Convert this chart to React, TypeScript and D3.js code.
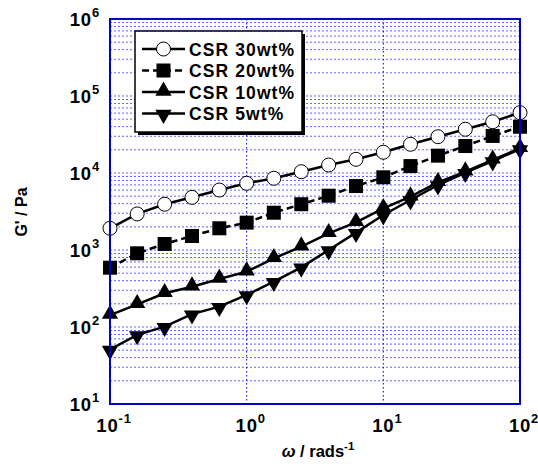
import React from "react";
import * as d3 from "d3";

// angular frequency (rad/s)
const omega = [0.1, 0.158, 0.251, 0.398, 0.631, 1, 1.58, 2.51, 3.98, 6.31, 10, 15.8, 25.1, 39.8, 63.1, 100];

const csr30 = [1915, 2940, 3930, 4830, 6010, 7350, 8540, 10400, 12700, 15060, 18600, 23600, 29600, 37000, 46300, 60700];
const csr20 = [589, 906, 1197, 1520, 1915, 2265, 3050, 3930, 5070, 6770, 8790, 12300, 16800, 22400, 30300, 39900];
const csr10 = [143, 197, 274, 334, 420, 523, 780, 1104, 1648, 2290, 3480, 4920, 7560, 10400, 14800, 20900];
const csr5 = [51, 79, 101, 147, 184, 261, 388, 596, 1000, 1680, 2850, 4460, 6980, 10100, 14300, 20500];

const seriesNames = ["CSR 30wt%", "CSR 20wt%", "CSR 10wt%", "CSR 5wt%"];
const xExponents = [-1, 0, 1, 2];
const yExponents = [1, 2, 3, 4, 5, 6];

const W = 538;
const H = 464;
const m = { left: 110, right: 520, top: 19, bottom: 404 };
const font = "Arial, 'Liberation Sans', sans-serif";

const x = d3.scaleLog().domain([0.1, 100]).range([m.left, m.right]);
const y = d3.scaleLog().domain([10, 1e6]).range([m.bottom, m.top]);

const series = [
  { name: seriesNames[0], values: csr30, marker: "circle", dash: "" },
  { name: seriesNames[1], values: csr20, marker: "square", dash: "7,4" },
  { name: seriesNames[2], values: csr10, marker: "up", dash: "" },
  { name: seriesNames[3], values: csr5, marker: "down", dash: "" },
];

const tri = d3.symbol().type(d3.symbolTriangle).size(115)() as string;

function Marker({ kind, cx, cy }: { kind: string; cx: number; cy: number }) {
  if (kind === "circle")
    return <circle cx={cx} cy={cy} r={7} fill="white" stroke="black" strokeWidth={1} />;
  if (kind === "square")
    return <rect x={cx - 7} y={cy - 7} width={14} height={14} fill="black" />;
  const rot = kind === "down" ? 180 : 0;
  return <path d={tri} transform={`translate(${cx},${cy + (rot ? 1 : -1)}) rotate(${rot})`} fill="black" />;
}

const lineGen = d3
  .line<[number, number]>()
  .x((d) => x(d[0]))
  .y((d) => y(d[1]));

export default function App() {
  const minorY: number[] = [];
  for (let e = 1; e < 6; e++) for (let k = 1; k <= 9; k++) minorY.push(k * Math.pow(10, e));

  return (
    <svg width={W} height={H} style={{ position: "absolute", left: 0, top: 0, background: "white" }}>
      {/* horizontal grid */}
      {minorY.map((v, i) => (
        <line key={"h" + i} x1={m.left} x2={m.right} y1={y(v)} y2={y(v)}
          stroke="#3b3bff" strokeWidth={1} strokeDasharray="2,2" opacity={0.8} />
      ))}
      {/* vertical grid at decades */}
      {[1, 10].map((v) => (
        <line key={"v" + v} x1={x(v)} x2={x(v)} y1={m.top} y2={m.bottom}
          stroke="#0000cc" strokeWidth={1} strokeDasharray="1.5,2.5" />
      ))}

      {/* data lines */}
      {series.map((s) => (
        <path key={s.name + "l"} d={lineGen(omega.map((o, i) => [o, s.values[i]]) as [number, number][]) as string}
          fill="none" stroke="black" strokeWidth={2.5} strokeDasharray={s.dash} />
      ))}
      {series.map((s) =>
        omega.map((o, i) => (
          <Marker key={s.name + i} kind={s.marker} cx={x(o)} cy={y(s.values[i])} />
        ))
      )}

      {/* frame */}
      <rect x={m.left} y={m.top} width={m.right - m.left} height={m.bottom - m.top}
        fill="none" stroke="#0000cc" strokeWidth={2} />

      {/* y tick labels */}
      {yExponents.map((e) => (
        <text key={"yt" + e} x={100} y={y(Math.pow(10, e)) + 7} textAnchor="end"
          fontFamily={font} fontWeight="bold" fontSize={18.5} letterSpacing={0.8}>
          10<tspan dy={-9} fontSize={13}>{e}</tspan>
        </text>
      ))}
      {/* x tick labels */}
      {xExponents.map((e) => (
        <text key={"xt" + e} x={x(Math.pow(10, e)) + 4} y={432} textAnchor="middle"
          fontFamily={font} fontWeight="bold" fontSize={18.5} letterSpacing={0.8}>
          10<tspan dy={-9} fontSize={13}>{e}</tspan>
        </text>
      ))}

      {/* axis titles */}
      <text transform="translate(27,212) rotate(-90)" textAnchor="middle"
        fontFamily={font} fontWeight="bold" fontSize={16}>G' / Pa</text>
      <text x={318} y={457} textAnchor="middle" fontFamily={font} fontWeight="bold" fontSize={16.5}>
        <tspan fontStyle="italic">ω</tspan> / rads<tspan dy={-7} fontSize={11.5}>-1</tspan>
      </text>

      {/* legend */}
      <rect x={138} y={34} width={167} height={101} fill="black" />
      <rect x={135} y={31} width={167} height={101} fill="white" stroke="black" strokeWidth={1.5} />
      {series.map((s, i) => {
        const ly = 49 + i * 21.5;
        return (
          <g key={s.name + "lg"}>
            <line x1={142} x2={185} y1={ly} y2={ly} stroke="black" strokeWidth={2.5} strokeDasharray={s.dash} />
            <Marker kind={s.marker} cx={163.5} cy={ly} />
            <text x={189} y={ly + 6.5} fontFamily={font} fontWeight="bold" fontSize={17.5} letterSpacing={1.1}>{s.name}</text>
          </g>
        );
      })}
    </svg>
  );
}
